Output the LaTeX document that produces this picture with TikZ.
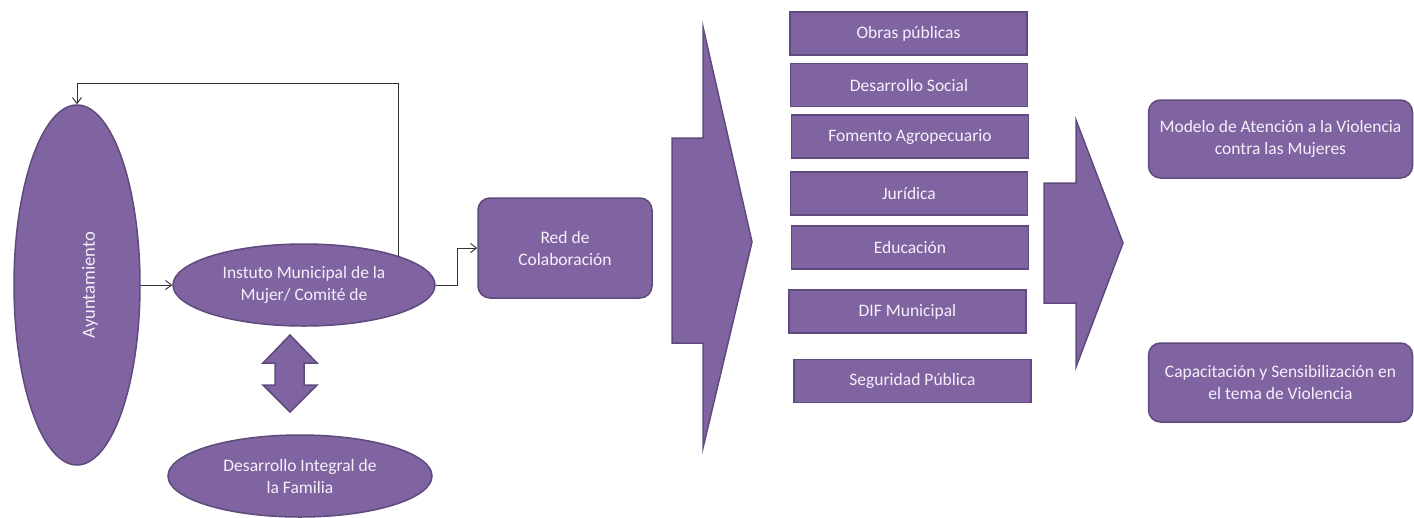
\documentclass[tikz,border=0pt]{standalone}
\usepackage{fontspec}
\setmainfont{Carlito}
\usetikzlibrary{shapes.geometric,arrows.meta,calc}
\definecolor{pfill}{HTML}{8064A2}
\definecolor{pline}{HTML}{5E4A7C}
\definecolor{ptext}{HTML}{F4F0FA}
\begin{document}
\begin{tikzpicture}[x=1pt,y=-1pt,
  txt/.style={text=ptext,font=\fontsize{17.5}{22}\selectfont,align=center},
  base/.style={txt,fill=pfill,draw=pline,line width=1.5pt,inner sep=0pt},
  ell/.style={base,ellipse},
  sqbox/.style={base,rectangle,minimum width=237,minimum height=43},
  rbox/.style={base,rectangle,rounded corners=12pt},
  conn/.style={draw=black!80,line width=0.9pt,-{Straight Barb[length=6pt,width=9pt]}}]
\useasboundingbox (0,0) rectangle (1414,517);
% left ellipses
\node[ell,minimum width=126,minimum height=360] (ayu) at (77,285) {};
\node[txt,rotate=90,font=\fontsize{18.5}{22}\selectfont] (ayut) at (90,285) {Ayuntamiento};
\node[ell,minimum width=262,minimum height=82] (inst) at (304,285) {Instuto Municipal de la\\Mujer/ Comité de};
\node[ell,minimum width=264,minimum height=82] (dif) at (300,476) {Desarrollo Integral de\\la Familia};
% double arrow
\draw[base] (290,335) -- (317,363) -- (304,363) -- (304,385) -- (317,385) -- (290,412) -- (263,385) -- (275,385) -- (275,363) -- (263,363) -- cycle;
% red
\node[rbox,minimum width=174,minimum height=100] (red) at (565,248) {Red de\\Colaboración};
% big arrows
\draw[base] (703,27) -- (752,242) -- (703,448) -- (703,343) -- (672,343) -- (672,138) -- (703,138) -- cycle;
\draw[base] (1076,120) -- (1123,243) -- (1076,367) -- (1076,303) -- (1044,303) -- (1044,183) -- (1076,183) -- cycle;
% boxes
\node[sqbox] (b1) at (908.5,33.5) {Obras públicas};
\node[sqbox] (b2) at (909,85) {Desarrollo Social};
\node[sqbox] (b3) at (910,136.5) {Fomento Agropecuario};
\node[sqbox] (b4) at (909,193.5) {Jurídica};
\node[sqbox] (b5) at (910,247.5) {Educación};
\node[sqbox] (b6) at (907.5,311.5) {DIF Municipal};
\node[sqbox] (b7) at (912.5,381) {Seguridad Pública};
% right boxes
\node[rbox,minimum width=264,minimum height=78] (m1) at (1280.5,139) {Modelo de Atención a la Violencia\\contra las Mujeres};
\node[rbox,minimum width=264,minimum height=79] (m2) at (1280.5,382.5) {Capacitación y Sensibilización en\\el tema de Violencia};
% connectors
\draw[conn] (ayu.east) -- (inst.west);
\draw[conn] (inst.17) |- (ayu.north |- 0,83) -- (ayu.north);
\draw[conn] (inst.east) -- ++(22,0) |- (red.west);
\end{tikzpicture}
\end{document}
